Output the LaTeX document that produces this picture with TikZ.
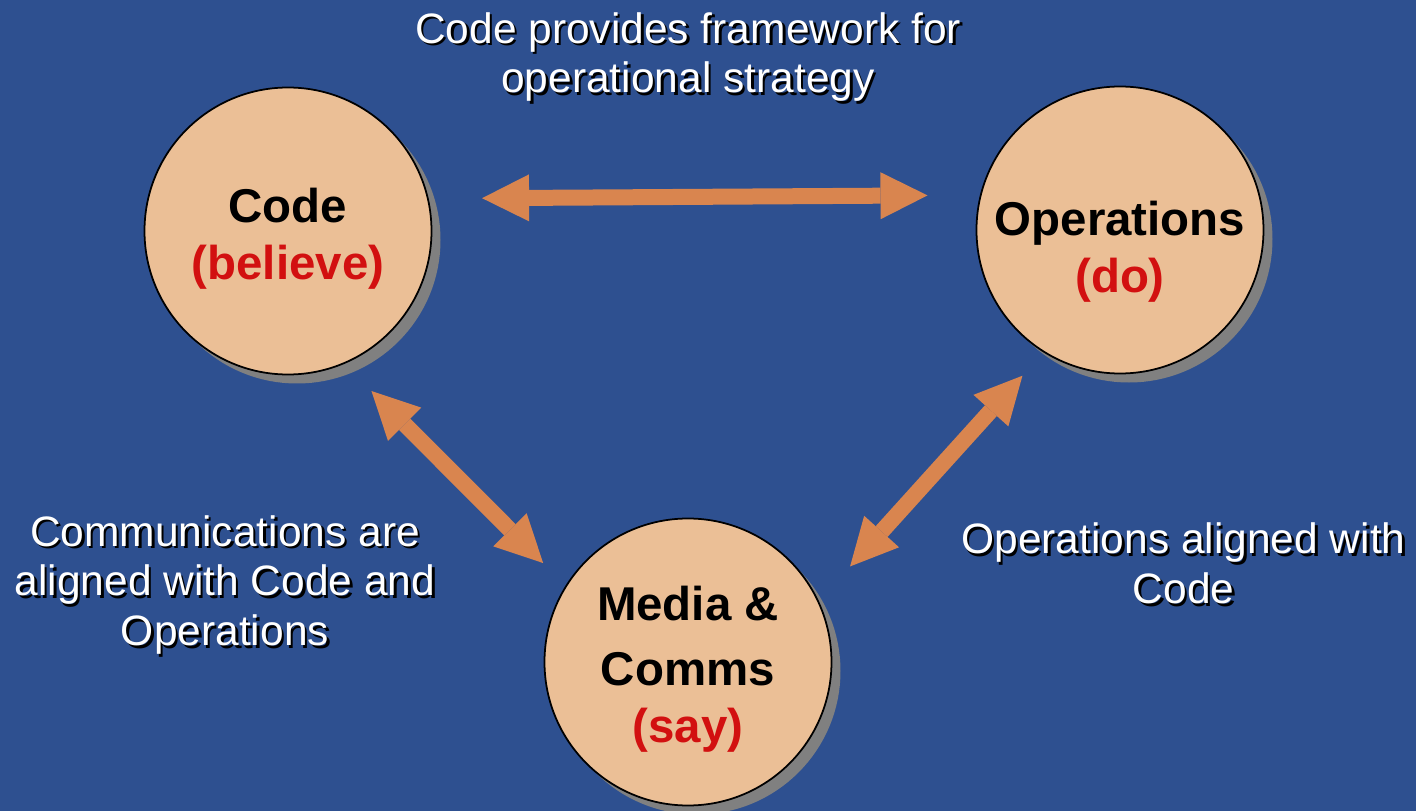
\documentclass[tikz,border=0pt]{standalone}
\usepackage{fontspec}
\setmainfont{Liberation Sans}
\usetikzlibrary{arrows.meta,shadows}

\definecolor{hintergrund}{RGB}{46,80,144}
\definecolor{kreisfarbe}{RGB}{235,191,150}
\definecolor{pfeilfarbe}{RGB}{217,133,79}
\definecolor{schatten}{RGB}{128,128,128}
\definecolor{rot}{RGB}{210,16,16}

\tikzset{
	kreis/.style={circle, draw=black, line width=0.5pt, fill=kreisfarbe,
		minimum size=2.87cm, inner sep=0pt,
		drop shadow={shadow xshift=0.09cm, shadow yshift=-0.09cm, fill=schatten, opacity=1}},
	kreistext/.style={align=center, inner sep=0pt, font=\fontsize{13.5}{16.2}\selectfont\bfseries},
	weisstext/.style={align=center, inner sep=0pt, text=white, font=\fontsize{12.1}{14.2}\selectfont},
	schattentext/.style={weisstext, text=black},
	pfeil/.style={<->, draw=pfeilfarbe, line width=0.16cm,
		>={Triangle[length=4.7mm, width=4.7mm, line width=0pt]}}
}

\begin{document}
\begin{tikzpicture}
	% Hintergrund
	\fill[hintergrund] (0,0) rectangle (14.16,-8.11);
	\useasboundingbox (0,0) rectangle (14.16,-8.11);
	% Die drei Kreise
	\node[kreis] (code) at (2.88,-2.31) {};
	\node[kreis] (ops) at (11.20,-2.30) {};
	\node[kreis] (media) at (6.88,-6.62) {};
	% Beschriftung der Kreise
	\node[kreistext] (codetext) at ([yshift=-0.075cm]code.center) {Code\\\textcolor{rot}{(believe)}};
	\node[kreistext] (opstext) at ([yshift=-0.215cm]ops.center) {Operations\\\textcolor{rot}{(do)}};
	\node[kreistext] (mediatext) at ([yshift=-0.07cm]media.center) {Media \&\\[2.3pt]Comms\\\textcolor{rot}{(say)}};
	% Pfeile
	\draw[pfeil, shorten <=0.534cm, shorten >=0.524cm] (code.13.3) -- (ops.166.7);
	\draw[pfeil, shorten <=0.383cm, shorten >=0.317cm] (code.-67.9) -- (media.148.7);
	\draw[pfeil, shorten <=0.314cm, shorten >=0.466cm] (ops.238.1) -- (media.25.4);
	% Text oben
	\node[schattentext] (obenschatten) at (6.905,-0.595) {Code provides framework for\\operational strategy};
	\node[weisstext] (oben) at (6.88,-0.57) {Code provides framework for\\operational strategy};
	% Text links
	\node[schattentext] (linksschatten) at (2.275,-5.875) {Communications are\\aligned with Code and\\Operations};
	\node[weisstext] (links) at (2.25,-5.85) {Communications are\\aligned with Code and\\Operations};
	% Text rechts
	\node[schattentext] (rechtsschatten) at (11.86,-5.66) {Operations aligned with\\Code};
	\node[weisstext] (rechts) at (11.835,-5.635) {Operations aligned with\\Code};
\end{tikzpicture}
\end{document}
